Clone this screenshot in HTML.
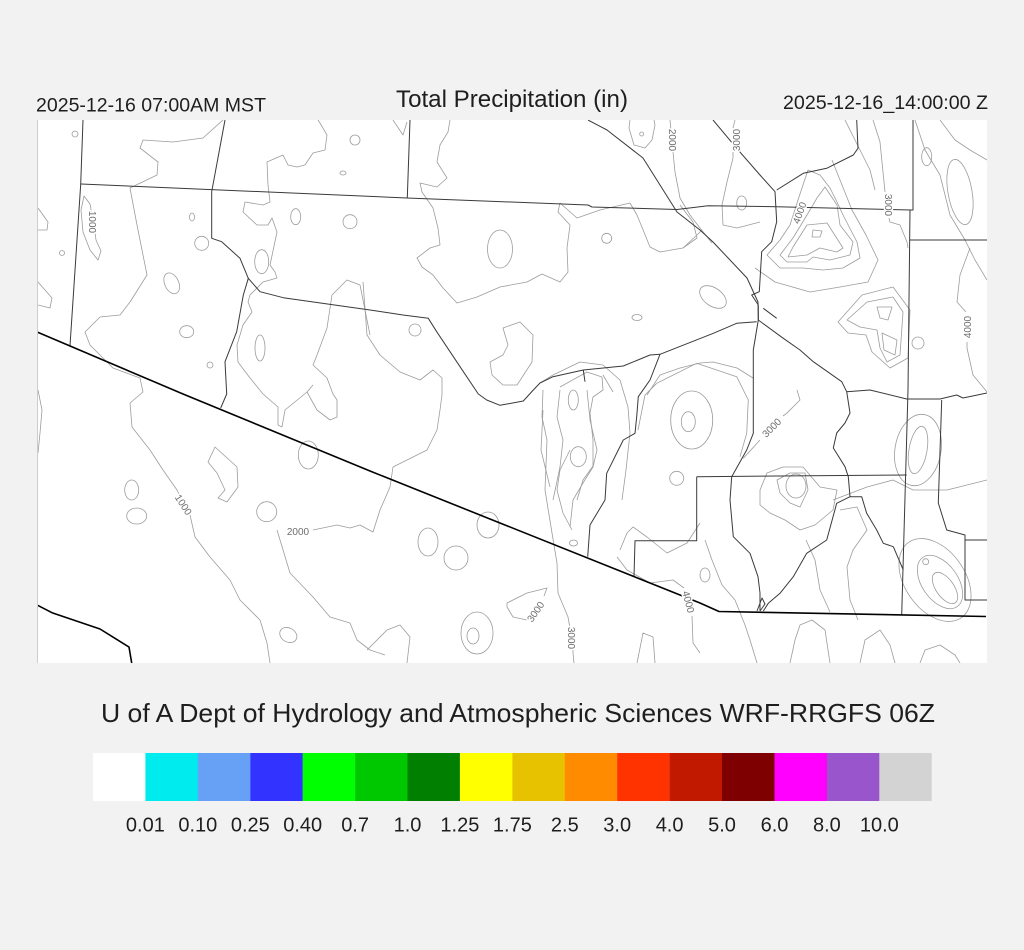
<!DOCTYPE html>
<html><head><meta charset="utf-8"><style>
html,body{margin:0;padding:0;background:#f2f2f2;}
svg{display:block;}
.t{font-family:"Liberation Sans",sans-serif;fill:#1e1e1e;}
.cl{font-family:"Liberation Sans",sans-serif;font-size:10px;fill:#6e6e6e;stroke:#fff;stroke-width:3px;paint-order:stroke;}
</style></head><body>
<svg width="1024" height="950" viewBox="0 0 1024 950" xmlns="http://www.w3.org/2000/svg">
<rect width="1024" height="950" fill="#f2f2f2"/>
<rect x="38" y="120" width="949" height="543" fill="#fff"/>
<line x1="37.5" y1="120" x2="37.5" y2="663" stroke="#cdcdcd" stroke-width="1"/>
<defs><clipPath id="m"><rect x="38" y="120" width="949" height="543"/></clipPath></defs>
<g clip-path="url(#m)">
<g fill="none" stroke="#9c9c9c" stroke-width="0.8" stroke-linejoin="round">
<path d="M223,120 L203,138 L173,142 L143,140 L140,148 L158,162 L157,175 L130,188 L137,225 L143,255 L147,275 L130,302 L120,315 L100,317 L85,332 L90,345 L113,368 L140,378 L143,392 L130,403 L132,427 L150,450 L163,470 L177,490 L190,515 L195,537 L210,557 L230,580 L240,600 L260,620 L267,643 L270,663"/>
<path d="M84,196 L90,204 L94,225 L96,240 L101,251 L98,260 L90,250 L83,232 L81,210 Z"/>
<path d="M38,208 L48,222 L47,230 L38,230"/>
<path d="M38,282 L52,298 L50,308 L38,305"/>
<path d="M38,390 L42,410 L40,433 L38,453"/>
<path d="M318,120 L320,123 L327,135 L325,150 L313,153 L305,165 L297,167 L288,165 L283,155 L267,162 L268,185 L270,202 L263,205 L245,202 L243,212 L257,225 L268,225 L272,218 L277,232 L270,265 L275,272 L277,278 L263,282 L250,295 L248,302 L252,312 L243,325 L237,345 L238,362 L250,378 L263,394 L278,407 L278,425 L282,427"/>
<path d="M282,427 L285,410 L307,392 L313,385"/>
<path d="M370,335 L360,285 L347,280 L332,295 L327,328 L317,355 L313,365 L327,378 L333,394 L337,400 L337,417 L330,420 L317,410 L307,392"/>
<path d="M450,120 L448,132 L440,145 L437,162 L447,178 L437,187 L420,183 L422,192 L433,208 L438,228 L440,245 L430,248 L417,258 L422,267 L433,275 L443,288 L457,303 L477,297 L500,287 L527,282 L542,274 L560,282 L568,272 L567,248 L570,225 L558,212 L560,203 L577,218 L600,210 L630,203 L637,215 L650,247 L660,252 L683,248 L697,235 L702,230"/>
<path d="M670,120 L673,152 L675,172 L680,198 L690,215 L700,228 L712,243"/>
<ellipse cx="500" cy="249" rx="12.5" ry="19"/>
<circle cx="606.7" cy="238.3" r="5"/>
<ellipse cx="637" cy="317.5" rx="5" ry="3"/>
<circle cx="415" cy="330" r="6"/>
<circle cx="75" cy="134" r="3"/>
<circle cx="62" cy="253" r="2.5"/>
<ellipse cx="192" cy="217" rx="2.5" ry="4"/>
<circle cx="201.7" cy="243.3" r="7"/>
<ellipse cx="171.7" cy="283.3" rx="7" ry="11" transform="rotate(-25 171.7 283.3)"/>
<ellipse cx="186.7" cy="331.7" rx="7" ry="6"/>
<circle cx="210" cy="365" r="3"/>
<ellipse cx="261.7" cy="261.7" rx="7" ry="12"/>
<ellipse cx="295.7" cy="216.7" rx="5" ry="8"/>
<circle cx="350" cy="221.7" r="7"/>
<circle cx="355" cy="140" r="5"/>
<ellipse cx="343" cy="173" rx="3" ry="2"/>
<ellipse cx="260" cy="348" rx="5" ry="13"/>
<path d="M393,120 L403,135 L407,122"/>
<path d="M363,282 L367,335 L380,355 L400,372 L420,380 L433,370 L442,378 L442,395 L440,410 L437,430 L427,450 L403,462 L393,467 L390,487 L380,510 L373,532 L360,525 L350,528 L337,525 L313,530"/>
<path d="M277,530 L290,573 L313,597 L330,617 L350,623 L357,640 L370,650 L385,655"/>
<path d="M503,328 L520,322 L533,335 L532,362 L517,385 L503,385 L492,375 L490,362 L503,355 L508,345 Z"/>
<path d="M540,383 L553,375 L580,362 L603,365 L620,380 L628,407 L630,433 L626,470 L622,500"/>
<path d="M613,392 L603,375"/>
<path d="M647,395 L660,375 L680,368 L700,363 L713,362 L737,368 L753,378"/>
<path d="M630,120 L629,128 L634,145 L645,148 L652,140 L655,125 L654,120"/>
<circle cx="641.7" cy="134" r="2"/>
<path d="M215,447 L237,467 L238,487 L227,502 L218,498 L225,490 L217,473 L208,462 Z"/>
<ellipse cx="131.7" cy="490" rx="7" ry="10"/>
<ellipse cx="136.7" cy="516" rx="10" ry="8"/>
<circle cx="266.7" cy="511.7" r="10"/>
<ellipse cx="308.3" cy="455" rx="10" ry="14"/>
<ellipse cx="288.3" cy="635" rx="9" ry="7" transform="rotate(30 288.3 635)"/>
<path d="M543,390 L542,417 L547,440 L545,490 L552,533 L557,563 L558,593 L568,617 L570,628"/>
<path d="M573,648 L573,653 L574,663"/>
<path d="M543,410 L541,450 L550,487"/>
<path d="M560,390 L557,417 L563,440 L560,467 L553,500"/>
<path d="M560,387 L587,372 L602,377 L603,390 L593,397 L590,413 L593,440 L593,466 L583,480 L577,500"/>
<path d="M572,530 L563,513 L557,490 L560,470 L570,450"/>
<path d="M587,390 L590,420 L597,450 L593,467 L583,483 L573,500 L570,527"/>
<ellipse cx="578.3" cy="456.7" rx="8" ry="10"/>
<ellipse cx="573.3" cy="400" rx="5" ry="10"/>
<ellipse cx="573.5" cy="543" rx="4" ry="3"/>
<path d="M527,620 L513,617 L507,607 L507,603 L527,593 L547,588 L544,596"/>
<ellipse cx="477" cy="633" rx="16" ry="21"/>
<ellipse cx="473" cy="636" rx="6" ry="8"/>
<ellipse cx="428" cy="542" rx="10" ry="14"/>
<ellipse cx="456" cy="558" rx="12" ry="12"/>
<ellipse cx="488" cy="525" rx="11" ry="13"/>
<path d="M620,550 L627,533 L633,527 L647,537 L667,553 L687,543 L700,523"/>
<path d="M617,557 L627,570 L650,583 L673,580 L684,588"/>
<path d="M692,616 L693,643 L700,653"/>
<path d="M637,663 L643,633 L653,637 L655,663"/>
<path d="M367,650 L387,630 L400,625 L410,637 L407,663"/>
<ellipse cx="688.3" cy="421.7" rx="7" ry="10"/>
<ellipse cx="691.7" cy="420" rx="21" ry="29"/>
<path d="M656.7,383.3 L696.7,363.3 L736.7,376.7 L748.3,400 L746.7,433.3 L740,456.7"/>
<path d="M656.7,383.3 L645,395 L638,430"/>
<path d="M743.3,458.3 L760,440 M783,416 L786.7,413.3 L800,400 L797,390"/>
<circle cx="676.7" cy="478.3" r="7"/>
<ellipse cx="796" cy="486" rx="10" ry="12"/>
<path d="M777,480 L790,473 L805,473 L808,490 L800,507 L790,503 L780,493 Z"/>
<path d="M760,490 L767,473 L783,467 L803,467 L820,487 L837,490 L833,510 L815,525 L800,530 L785,520 L770,513 L760,505 Z"/>
<ellipse cx="945" cy="588" rx="9" ry="18" transform="rotate(-35 945 588)"/>
<ellipse cx="940" cy="582" rx="18" ry="30" transform="rotate(-35 940 582)"/>
<ellipse cx="935" cy="580" rx="30" ry="46" transform="rotate(-35 935 580)"/>
<circle cx="925.7" cy="561.7" r="3"/>
<ellipse cx="918" cy="450" rx="9" ry="24" transform="rotate(10 918 450)"/>
<ellipse cx="918" cy="450" rx="23" ry="36" transform="rotate(10 918 450)"/>
<ellipse cx="705" cy="575" rx="5" ry="7"/>
<path d="M757,663 L750,640 L745,625 L735,600 L722,585 L712,560 L705,540"/>
<path d="M790,663 L795,640 L800,625 L812,620 L825,630 L830,663"/>
<path d="M860,663 L865,640 L880,630 L890,645 L895,663"/>
<path d="M920,663 L925,650 L940,645 L955,655 L960,663"/>
<path d="M833,500 L867,487 L893,480 L913,490 L947,490 L987,480"/>
<path d="M840,510 L857,507 L867,530 L853,550 L847,567 L850,600 L858,620"/>
<path d="M806,540 L815,560 L820,590 L830,612"/>
<path d="M735,120 L733,128"/>
<path d="M733,152 L733,158 L727,182 L722,205 L723,225 L737,228 L760,222"/>
<ellipse cx="741.7" cy="203" rx="5" ry="7"/>
<ellipse cx="713" cy="297" rx="15" ry="9" transform="rotate(35 713 297)"/>
<path d="M680,205 L693,222 L697,238 L683,248"/>
<path d="M813,230 L822,231 L820,237 L812,237 Z"/>
<path d="M807,225 L827,223 L843,248 L837,252 L820,248 L807,255 L788,257 L793,247 Z"/>
<path d="M825,187 L837,205 L840,225 L853,242 L850,255 L830,260 L813,257 L807,262 L787,262 L780,255 L793,238 L807,215 L817,198 Z"/>
<path d="M767,255 L780,268 L803,268 L823,270 L843,268 L860,258 L857,242 L843,215 L837,202 L830,188 L820,175 L808,170 L803,185 L798,200 L790,225 L780,240 Z"/>
<path d="M755,268 L775,282 L810,292 L840,287 L868,282 L878,260 L866,235 L852,210 L842,185 L832,160"/>
<path d="M877,307 L892,307 L888,320 L880,318 Z"/>
<path d="M882,333 L897,340 L895,355 L884,350 Z"/>
<path d="M847,320 L867,302 L893,297 L903,312 L900,355 L887,362 L880,348 L877,330 L860,327 Z"/>
<path d="M838,322 L862,295 L893,287 L910,310 L908,358 L890,368 L872,352 L866,335 L848,333 Z"/>
<path d="M873,120 L880,142 L883,172 L885,192"/>
<path d="M889,218 L890,222 L900,225 L907,242 L908,248"/>
<path d="M970,248 L960,275 L957,302 L966,312"/>
<path d="M967,342 L967,348 L973,375 L987,392"/>
<ellipse cx="926.7" cy="156.7" rx="5" ry="9"/>
<ellipse cx="960" cy="192" rx="12" ry="33" transform="rotate(-10 960 192)"/>
<circle cx="918" cy="343" r="6"/>
<path d="M915,120 L925,150 L940,175 L950,215 L965,240 L975,260 L987,280"/>
<path d="M940,120 L955,140 L970,150 L987,160"/>
<path d="M845,120 L855,140 L870,170 L875,190"/>
</g>
<g fill="none" stroke="#3a3a3a" stroke-width="1" stroke-linejoin="round">
<path d="M83,120 L80.7,184.3 L70,345.7"/>
<path d="M81,184 L407,198 L588,205 L592,207 L677,209.5 L708,205.7 L777,206.7 L911,210"/>
<path d="M225,120 L211.7,191.7 L211.7,238.3 L221.7,241.7 L240,258.3 L248.3,278.3 L243.3,295 L236.7,331.7 L225,361.7 L226.7,394 L220.7,408"/>
<path d="M248.3,278.3 L260,291.7 L283.3,297.7 L370,310 L381.7,311.7 L403,315 L428.3,318.3 L436.7,331.7 L456.7,361.7 L478.3,394 L486.7,400 L500,405.3 L523.3,401 L533.3,390 L540,383 L553,376.7 L583.3,370 L623.3,366 L650,355 L660,354.3 L713.3,333.3 L736.7,323.3 L756.7,321.7"/>
<path d="M583.3,370 L585,381.7"/>
<path d="M410,120 L407.3,197.7"/>
<path d="M660,354.3 L650,380 L638.3,396.7 L636.7,416.7 L635,433.3 L623.3,440 L618.3,450 L606.7,473.3 L605,500 L590,525 L587.7,556.7"/>
<path d="M588,120 L607,130 L643,158 L677,212 L700,230 L713,242 L747,278 L758,302 L758.3,320 L783.3,338.3 L800,350 L813.3,361.7 L841.7,381.7 L846.7,391.7 L850,413 L845,423 L836.7,433 L833.3,448 L845,466.7 L848.3,476.7 L850,496.7"/>
<path d="M850,496.7 L836.7,503.3 L826.7,540 L806.7,553.3 L793.3,576.7 L780,593.3 L768.3,603.3 L763.3,611"/>
<path d="M850,496.7 L861.7,496.7 L866.7,513.3 L876.7,530 L883.3,543.3 L893.3,546.7 L903.3,570"/>
<path d="M713,120 L736.7,148.3 L760,175 L775,191.7 L776.7,221.7 L771.7,241.7 L761.7,251.7 L759.3,291.7 L751.7,295 L758.3,305 L758.3,320 L753.3,350 L753.3,433.3 L746.7,450 L731.7,476.7 L730,500 L733.3,536.7 L750,553.3 L758,576.7 L760,593 L760,611"/>
<path d="M757,611 L762,598 L765,604 L760,611"/>
<path d="M913,120 L913,210 L910,210 L908,390 L901.7,615"/>
<path d="M910,240 L987,240"/>
<path d="M846.7,391.7 L870,390 L906.7,399 L940,399 L956.7,395 L963,398 L987,393"/>
<path d="M696.7,476.7 L906.7,475"/>
<path d="M696.7,476.7 L696.7,540.7 L635,540.7 L634,576.7"/>
<path d="M941.7,400 L938.3,503 L946.7,530 L965,535 L965,600 L987,600"/>
<path d="M965,540 L987,540"/>
<path d="M776.7,190 L803.3,173.3 L826.7,168.3 L853.3,155 L858,148.3 L856.7,120"/>
<path d="M763.3,308.3 L776.7,318.3"/>
</g>
<g fill="none" stroke="#000" stroke-width="1.6" stroke-linejoin="round">
<path d="M37,332 L183,394 L370,471 L700,603 L719,611.5 L986,616.5"/>
<path d="M37,605 L52,612.7 L100,629 L129,647 L131.7,663"/>
</g>
<g class="cl" text-anchor="middle">
<text x="92" y="225" transform="rotate(90 92 222)">1000</text>
<text x="183" y="508" transform="rotate(57 183 505)">1000</text>
<text x="298" y="535">2000</text>
<text x="672" y="143" transform="rotate(90 672 140)">2000</text>
<text x="737" y="143" transform="rotate(-90 737 140)">3000</text>
<text x="888" y="208" transform="rotate(90 888 205)">3000</text>
<text x="800" y="216" transform="rotate(-70 800 213)">4000</text>
<text x="968" y="330" transform="rotate(-90 968 327)">4000</text>
<text x="772" y="431" transform="rotate(-45 772 428)">3000</text>
<text x="536" y="615" transform="rotate(-55 536 612)">3000</text>
<text x="571" y="641" transform="rotate(90 571 638)">3000</text>
<text x="688" y="605" transform="rotate(75 688 602)">4000</text>
</g>
</g>
<text class="t" x="36" y="111.5" font-size="19.6" textLength="230" lengthAdjust="spacingAndGlyphs">2025-12-16 07:00AM MST</text>
<text class="t" x="396" y="107" font-size="24" textLength="232" lengthAdjust="spacingAndGlyphs">Total Precipitation (in)</text>
<text class="t" x="783" y="109" font-size="19.6" textLength="205" lengthAdjust="spacingAndGlyphs">2025-12-16_14:00:00 Z</text>
<text class="t" x="101" y="722" font-size="26" textLength="834" lengthAdjust="spacingAndGlyphs">U of A Dept of Hydrology and Atmospheric Sciences WRF-RRGFS 06Z</text>
<g>
<rect x="93" y="753" width="52.6" height="48" fill="#ffffff"/>
<rect x="145.4" y="753" width="52.6" height="48" fill="#00ebed"/>
<rect x="197.8" y="753" width="52.6" height="48" fill="#67a1f6"/>
<rect x="250.3" y="753" width="52.6" height="48" fill="#3333ff"/>
<rect x="302.7" y="753" width="52.6" height="48" fill="#00ff00"/>
<rect x="355.1" y="753" width="52.6" height="48" fill="#00c800"/>
<rect x="407.5" y="753" width="52.6" height="48" fill="#007f00"/>
<rect x="459.9" y="753" width="52.6" height="48" fill="#ffff00"/>
<rect x="512.4" y="753" width="52.6" height="48" fill="#e6c200"/>
<rect x="564.8" y="753" width="52.6" height="48" fill="#ff8c00"/>
<rect x="617.2" y="753" width="52.6" height="48" fill="#ff3300"/>
<rect x="669.6" y="753" width="52.6" height="48" fill="#c01900"/>
<rect x="722" y="753" width="52.6" height="48" fill="#7f0000"/>
<rect x="774.5" y="753" width="52.6" height="48" fill="#ff00ff"/>
<rect x="826.9" y="753" width="52.6" height="48" fill="#9955cc"/>
<rect x="879.3" y="753" width="52.4" height="48" fill="#d3d3d3"/>
</g>
<g class="t" font-size="20" text-anchor="middle">
<text x="145.4" y="831.5">0.01</text>
<text x="197.8" y="831.5">0.10</text>
<text x="250.3" y="831.5">0.25</text>
<text x="302.7" y="831.5">0.40</text>
<text x="355.1" y="831.5">0.7</text>
<text x="407.5" y="831.5">1.0</text>
<text x="459.9" y="831.5">1.25</text>
<text x="512.4" y="831.5">1.75</text>
<text x="564.8" y="831.5">2.5</text>
<text x="617.2" y="831.5">3.0</text>
<text x="669.6" y="831.5">4.0</text>
<text x="722" y="831.5">5.0</text>
<text x="774.5" y="831.5">6.0</text>
<text x="826.9" y="831.5">8.0</text>
<text x="879.3" y="831.5">10.0</text>
</g>
</svg>
</body></html>
